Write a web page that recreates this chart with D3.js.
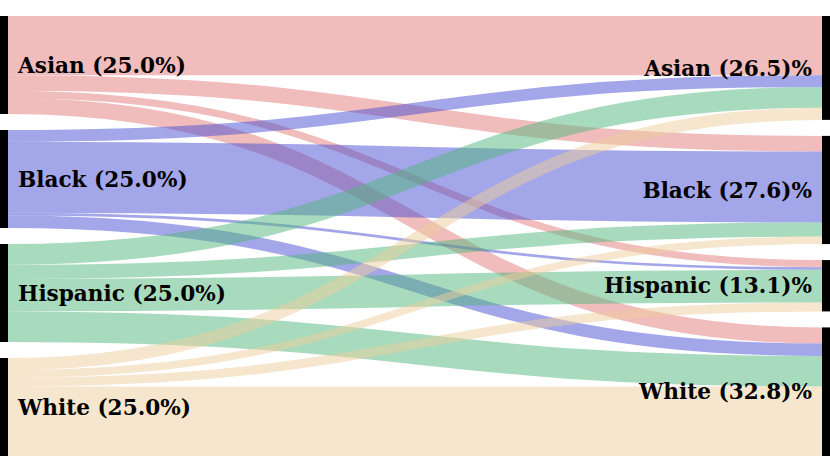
<!DOCTYPE html>
<html>
<head>
<meta charset="utf-8">
<script src="https://cdn.jsdelivr.net/npm/d3@7"></script>
<style>
  html, body { margin: 0; padding: 0; background: #ffffff; }
  svg { display: block; }
</style>
</head>
<body>
<svg id="chart" width="830" height="473"></svg>
<script>
// ---- Data (values in % of total) ----
const categories = ["Asian", "Black", "Hispanic", "White"];
// flows from each source (left) to targets in category order
const asianFlows    = [15.1, 4.0, 1.8, 4.1];
const blackFlows    = [3.0, 18.1, 0.7, 3.2];
const hispanicFlows = [5.3, 3.6, 8.3, 7.8];
const whiteFlows    = [3.1, 1.9, 2.3, 17.7];
const leftPercents  = [25.0, 25.0, 25.0, 25.0];
const rightPercents = [26.5, 27.6, 13.1, 32.8];
const colors = ["#e17979", "#474dd1", "#51b57d", "#ebcd9b"];

const flows = [asianFlows, blackFlows, hispanicFlows, whiteFlows];

// ---- Layout ----
const W = 830, H = 473;
const plotTop = 16, plotBottom = 456;
const nodeWidth = 8, nodePadding = 16;
const n = categories.length;

const total = d3.sum(flows, r => d3.sum(r));
const yScale = d3.scaleLinear()
  .domain([0, total])
  .range([0, (plotBottom - plotTop) - (n - 1) * nodePadding]);

const xScale = d3.scaleLinear().domain([0, 1]).range([0, W - nodeWidth]);

const svg = d3.select("#chart");

function buildNodes(values, col) {
  let y = plotTop;
  return values.map((v, i) => {
    const h = yScale(v);
    const node = { name: categories[i], value: v, x0: xScale(col), x1: xScale(col) + nodeWidth, y0: y, y1: y + h };
    y += h + nodePadding;
    return node;
  });
}

const srcTotals = flows.map(r => d3.sum(r));
const tgtTotals = categories.map((_, t) => d3.sum(flows, r => r[t]));
const leftNodes = buildNodes(srcTotals, 0);
const rightNodes = buildNodes(tgtTotals, 1);

// link offsets
const srcOff = leftNodes.map(d => d.y0);
const tgtOff = rightNodes.map(d => d.y0);
const links = [];
for (let s = 0; s < n; s++) {
  for (let t = 0; t < n; t++) {
    const v = flows[s][t];
    const w = yScale(v);
    links.push({ s, t, v, w, sy: srcOff[s] + w / 2 });
    srcOff[s] += w;
  }
}
for (let t = 0; t < n; t++) {
  for (let s = 0; s < n; s++) {
    const l = links.find(d => d.s === s && d.t === t);
    l.ty = tgtOff[t] + l.w / 2;
    tgtOff[t] += l.w;
  }
}

const linkGen = d3.linkHorizontal();

svg.append("g")
  .attr("fill", "none")
  .selectAll("path")
  .data(links)
  .join("path")
  .attr("d", d => linkGen({ source: [leftNodes[d.s].x1, d.sy], target: [rightNodes[d.t].x0, d.ty] }))
  .attr("stroke", d => colors[d.s])
  .attr("stroke-opacity", 0.5)
  .attr("stroke-width", d => Math.max(1, d.w));

// nodes
svg.append("g")
  .selectAll("rect")
  .data(leftNodes.concat(rightNodes))
  .join("rect")
  .attr("x", d => d.x0)
  .attr("y", d => d.y0)
  .attr("width", d => d.x1 - d.x0)
  .attr("height", d => d.y1 - d.y0)
  .attr("fill", "#000");

// labels
const fmt = d3.format(".1f");
const labelG = svg.append("g")
  .attr("font-family", "'DejaVu Serif', serif")
  .attr("font-weight", "bold")
  .attr("font-size", 21.6)
  .attr("fill", "#000");

labelG.selectAll("text.left")
  .data(leftNodes)
  .join("text")
  .attr("class", "left")
  .attr("x", d => d.x1 + 10)
  .attr("y", d => (d.y0 + d.y1) / 2)
  .attr("dy", "0.35em")
  .attr("text-anchor", "start")
  .text((d, i) => `${d.name} (${fmt(leftPercents[i])}%)`);

labelG.selectAll("text.right")
  .data(rightNodes)
  .join("text")
  .attr("class", "right")
  .attr("x", d => d.x0 - 10)
  .attr("y", d => (d.y0 + d.y1) / 2)
  .attr("dy", "0.35em")
  .attr("text-anchor", "end")
  .text((d, i) => `${d.name} (${fmt(rightPercents[i])})%`);
</script>
</body>
</html>
